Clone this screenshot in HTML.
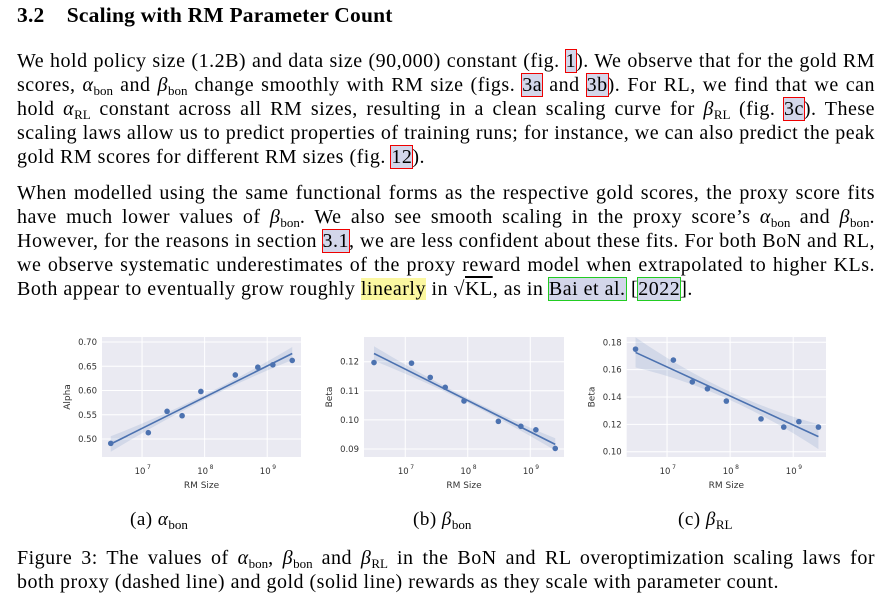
<!DOCTYPE html>
<html><head><meta charset="utf-8">
<style>
body{margin:0;width:885px;height:601px;background:#fff;position:relative;overflow:hidden;font-family:"Liberation Serif",serif;color:#000}
.h{position:absolute;left:17px;top:3px;font-weight:bold;font-size:21.5px;letter-spacing:0.2px}
.ln{position:absolute;left:17px;width:858px;font-size:20px;letter-spacing:0.5px;white-space:nowrap;line-height:22px}
.j{text-align:justify;text-align-last:justify;white-space:normal}
.m{font-style:italic}
sub{font-size:13px;font-style:normal;vertical-align:-4px;line-height:0;letter-spacing:0}
.rb{outline:1.5px solid #e00;background:#d3d6ea}
.gb{outline:1.5px solid #2c2;background:#d3d6ea}
.cap{position:absolute;font-size:19px;top:509px;letter-spacing:0.5px}
svg{position:absolute;left:0;top:0}
</style></head><body>
<div class="h">3.2&nbsp;&nbsp;&nbsp;&nbsp;Scaling with RM Parameter Count</div>
<div class="ln j" style="top:50px">We hold policy size (1.2B) and data size (90,000) constant (fig. <span class="rb">1</span>). We observe that for the gold RM</div>
<div class="ln j" style="top:74px">scores, <span class="m">α</span><sub>bon</sub> and <span class="m">β</span><sub>bon</sub> change smoothly with RM size (figs. <span class="rb">3a</span> and <span class="rb">3b</span>). For RL, we find that we can</div>
<div class="ln j" style="top:98px">hold <span class="m">α</span><sub>RL</sub> constant across all RM sizes, resulting in a clean scaling curve for <span class="m">β<sub>RL</sub></span> (fig. <span class="rb">3c</span>). These</div>
<div class="ln j" style="top:122px">scaling laws allow us to predict properties of training runs; for instance, we can also predict the peak</div>
<div class="ln" style="top:146px">gold RM scores for different RM sizes (fig. <span class="rb">12</span>).</div>
<div class="ln j" style="top:182px">When modelled using the same functional forms as the respective gold scores, the proxy score fits</div>
<div class="ln j" style="top:206px">have much lower values of <span class="m">β</span><sub>bon</sub>. We also see smooth scaling in the proxy score’s <span class="m">α</span><sub>bon</sub> and <span class="m">β</span><sub>bon</sub>.</div>
<div class="ln j" style="top:230px">However, for the reasons in section <span class="rb">3.1</span>, we are less confident about these fits. For both BoN and RL,</div>
<div class="ln j" style="top:254px">we observe systematic underestimates of the proxy reward model when extrapolated to higher KLs.</div>
<div class="ln" style="top:278px">Both appear to eventually grow roughly <span style="background:#fbf7a0">linearly</span> in √<span style="text-decoration:overline">KL</span>, as in <span class="gb">Bai et al.</span> [<span class="gb">2022</span>].</div>
<div class="cap" style="left:130px">(a) <span class="m">α</span><sub>bon</sub></div>
<div class="cap" style="left:413px">(b) <span class="m">β</span><sub>bon</sub></div>
<div class="cap" style="left:678px">(c) <span class="m">β</span><sub>RL</sub></div>
<div class="ln j" style="top:547px">Figure 3: The values of <span class="m">α</span><sub>bon</sub>, <span class="m">β</span><sub>bon</sub> and <span class="m">β</span><sub>RL</sub> in the BoN and RL overoptimization scaling laws for</div>
<div class="ln" style="top:571px">both proxy (dashed line) and gold (solid line) rewards as they scale with parameter count.</div>
<svg id="svg" width="885" height="601"></svg>
<script>
const logSizes=[6.5,7.1,7.4,7.64,7.94,8.49,8.85,9.09,9.4];
const alphaVals=[0.491,0.513,0.557,0.548,0.598,0.632,0.648,0.653,0.662];
const betaBonVals=[0.1197,0.1195,0.1146,0.1112,0.1065,0.0995,0.0978,0.0966,0.0902];
const betaRlVals=[0.175,0.167,0.151,0.146,0.137,0.124,0.118,0.122,0.118];
const alphaTicks=[0.50,0.55,0.60,0.65,0.70];
const betaBonTicks=[0.09,0.10,0.11,0.12];
const betaRlTicks=[0.10,0.12,0.14,0.16,0.18];
const xTicks=[7,8,9];
const charts=[
 {name:'alpha',vals:alphaVals,ticks:alphaTicks,ylab:'Alpha',l:102,r:301,t:337,b:457,x0:6.36,x1:9.54,ty0:0.50,py0:439,ty1:0.70,py1:342,dec:2,band:[0.016,0.005]},
 {name:'beta-bon',vals:betaBonVals,ticks:betaBonTicks,ylab:'Beta',l:364,r:564,t:337,b:457,x0:6.34,x1:9.54,ty0:0.09,py0:449,ty1:0.12,py1:361.7,dec:2,band:[0.0025,0.0008]},
 {name:'beta-rl',vals:betaRlVals,ticks:betaRlTicks,ylab:'Beta',l:626.7,r:826,t:337,b:457,x0:6.36,x1:9.52,ty0:0.10,py0:451.7,ty1:0.18,py1:342.3,dec:2,band:[0.011,0.003]}
];
const NS='http://www.w3.org/2000/svg';
const svg=document.getElementById('svg');
function mk(tag,attrs,parent){const e=document.createElementNS(NS,tag);for(const k in attrs)e.setAttribute(k,attrs[k]);(parent||svg).appendChild(e);return e;}
charts.forEach(c=>{
 const g=mk('g',{});
 
 
 const X=v=>c.l+(v-c.x0)/(c.x1-c.x0)*(c.r-c.l);
 const Y=v=>c.py0+(v-c.ty0)/(c.ty1-c.ty0)*(c.py1-c.py0);
 const bg=mk('rect',{x:c.l,y:c.t,width:c.r-c.l,height:c.b-c.t,fill:'#eaeaf2'},g);
 
 
 c.ticks.forEach(t=>{
  const y=Y(t);
  const gl=mk('line',{x1:c.l,x2:c.r,y1:y,y2:y,stroke:'#fff','stroke-width':1},g);
  
  
  const tl=mk('text',{x:c.l-5,y:y+3,'text-anchor':'end','font-size':'8.5','font-family':'DejaVu Sans, sans-serif',fill:'#333'},g);
  tl.textContent=t.toFixed(c.dec);
  
  
 });
 xTicks.forEach(t=>{
  const x=X(t);
  const gl=mk('line',{x1:x,x2:x,y1:c.t,y2:c.b,stroke:'#fff','stroke-width':1},g);
  
  
  const tl=mk('text',{x:x-2,y:c.b+17,'text-anchor':'middle','font-size':'8.5','font-family':'DejaVu Sans, sans-serif',fill:'#333'},g);
  tl.textContent='10';
  
  
  const sp=mk('text',{x:x+5,y:c.b+12,'font-size':'6','font-family':'DejaVu Sans, sans-serif',fill:'#333'},g);
  sp.textContent=String(t);
 });
 const n=logSizes.length;const mx=logSizes.reduce((a,b)=>a+b)/n;const my=c.vals.reduce((a,b)=>a+b)/n;
 let sxy=0,sxx=0;for(let i=0;i<n;i++){sxy+=(logSizes[i]-mx)*(c.vals[i]-my);sxx+=(logSizes[i]-mx)**2;}
 const sl=sxy/sxx;const f=v=>my+sl*(v-mx);
 const xa=logSizes[0],xb=logSizes[n-1];const span=Math.max(xb-mx,mx-xa);
 const hw=v=>c.band[1]+(c.band[0]-c.band[1])*((v-mx)/span)**2;
 let up=[],dn=[];for(let k=0;k<=30;k++){const v=xa+(xb-xa)*k/30;up.push(X(v)+','+Y(f(v)+hw(v)));dn.unshift(X(v)+','+Y(f(v)-hw(v)));}
 const band=mk('polygon',{points:up.concat(dn).join(' '),fill:'#4c72b0','fill-opacity':0.15},g);
 
 
 const ln=mk('line',{x1:X(xa),y1:Y(f(xa)),x2:X(xb),y2:Y(f(xb)),stroke:'#4c72b0','stroke-width':1.6},g);
 
 
 logSizes.forEach((s,i)=>{
  const p=mk('circle',{cx:X(s),cy:Y(c.vals[i]),r:2.8,fill:'#4c72b0'},g);
  
  
 });
 const xl=mk('text',{x:(c.l+c.r)/2,y:c.b+31,'text-anchor':'middle','font-size':'9','font-family':'DejaVu Sans, sans-serif',fill:'#333'},g);
 xl.textContent='RM Size';
 
 
 const yx=c.l-32,yy=(c.t+c.b)/2;
 const yl=mk('text',{x:yx,y:yy,'text-anchor':'middle','font-size':'9','font-family':'DejaVu Sans, sans-serif',fill:'#333',transform:'rotate(-90 '+yx+' '+yy+')'},g);
 yl.textContent=c.ylab;
 
 
});
</script>
</body></html>
